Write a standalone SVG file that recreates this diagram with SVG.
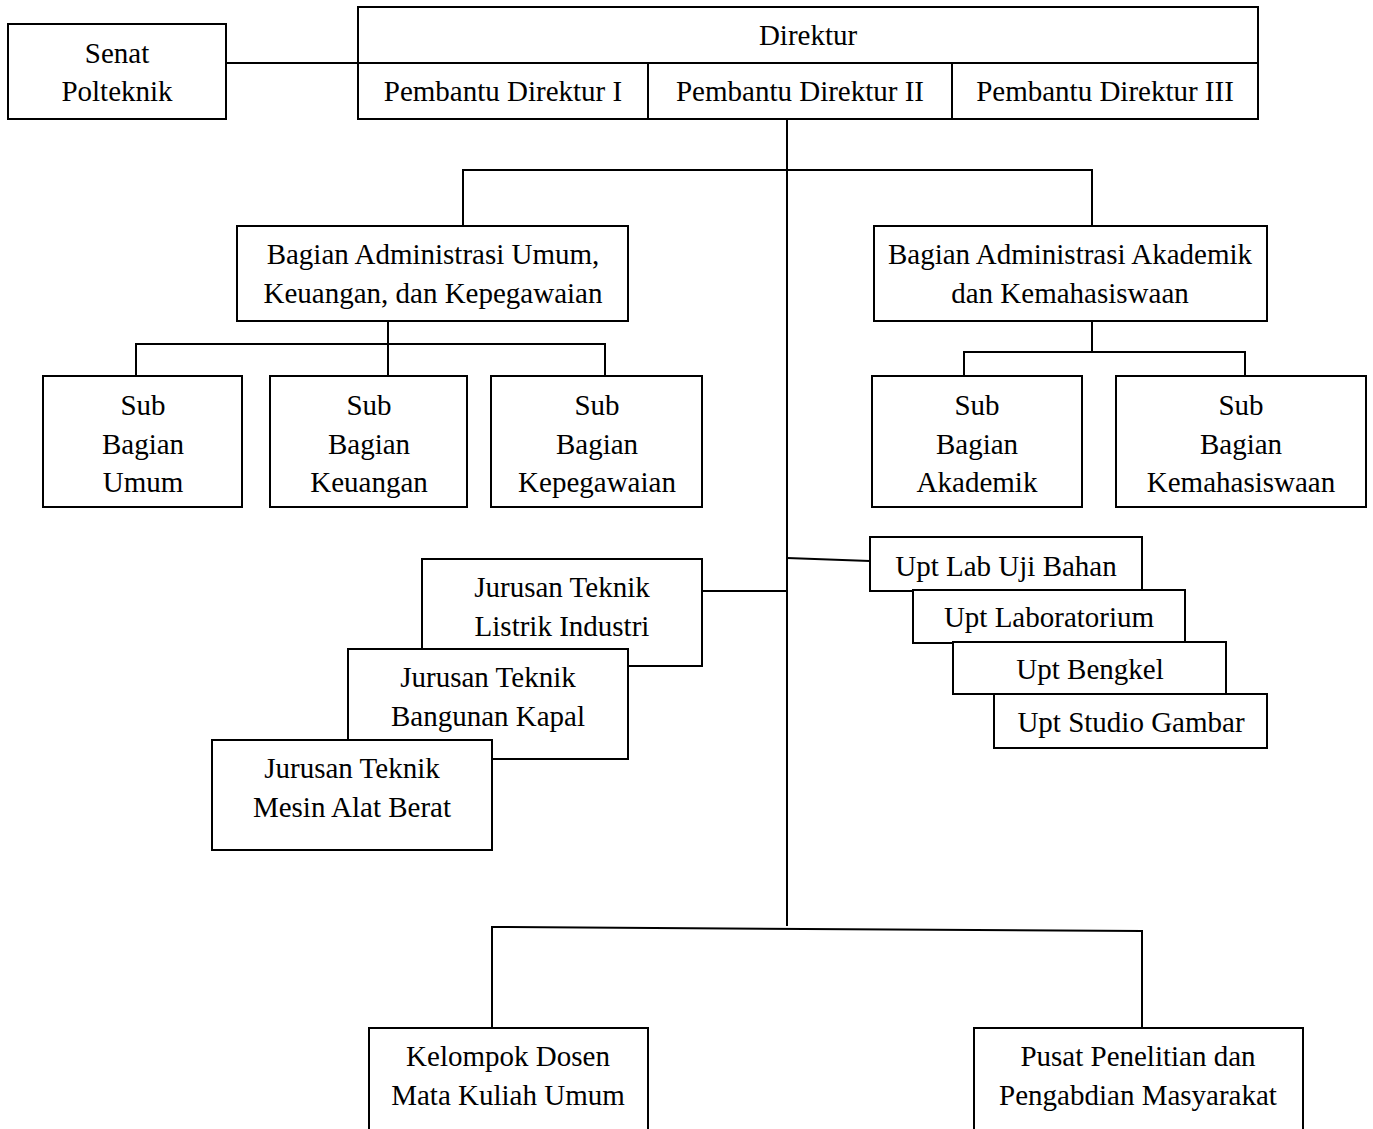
<svg xmlns="http://www.w3.org/2000/svg" width="1373" height="1129" viewBox="0 0 1373 1129">
<style>
.box{fill:#fff;stroke:#000;stroke-width:2}
.ln{fill:none;stroke:#000;stroke-width:2}
text{font-family:"Liberation Serif","Times New Roman",serif;font-size:29px;fill:#000;text-anchor:middle}
</style>
<rect width="1373" height="1129" fill="#fff"/>
<g id="connectors">
<line class="ln" x1="226" y1="63" x2="358" y2="63"/>
<line class="ln" x1="787" y1="119" x2="787" y2="926"/>
<polyline class="ln" points="463,226 463,170 1092,170 1092,226"/>
<line class="ln" x1="388" y1="321" x2="388" y2="376"/>
<polyline class="ln" points="136,376 136,344 605,344 605,376"/>
<line class="ln" x1="1092" y1="321" x2="1092" y2="352"/>
<polyline class="ln" points="964,376 964,352 1245,352 1245,376"/>
<line class="ln" x1="787" y1="558" x2="870" y2="561"/>
<line class="ln" x1="702" y1="591" x2="787" y2="591"/>
<polyline class="ln" points="492,1028 492,927 1142,931 1142,1028"/>
</g>
<g id="senat">
<rect class="box" x="8" y="24" width="218" height="95"/>
<text x="117" y="63">Senat</text>
<text x="117" y="101">Polteknik</text>
</g>
<g id="direktur">
<rect class="box" x="358" y="7" width="900" height="112"/>
<line class="ln" x1="358" y1="63" x2="1258" y2="63"/>
<line class="ln" x1="648" y1="63" x2="648" y2="119"/>
<line class="ln" x1="952" y1="63" x2="952" y2="119"/>
<text x="808" y="45">Direktur</text>
<text x="503" y="101">Pembantu Direktur I</text>
<text x="800" y="101">Pembantu Direktur II</text>
<text x="1105" y="101">Pembantu Direktur III</text>
</g>
<g id="bagian-umum">
<rect class="box" x="237" y="226" width="391" height="95"/>
<text x="433" y="264">Bagian Administrasi Umum,</text>
<text x="433" y="303">Keuangan, dan Kepegawaian</text>
</g>
<g id="bagian-akademik">
<rect class="box" x="874" y="226" width="393" height="95"/>
<text x="1070" y="264">Bagian Administrasi Akademik</text>
<text x="1070" y="303">dan Kemahasiswaan</text>
</g>
<g id="sub-umum">
<rect class="box" x="43" y="376" width="199" height="131"/>
<text x="143" y="415">Sub</text>
<text x="143" y="454">Bagian</text>
<text x="143" y="492">Umum</text>
</g>
<g id="sub-keuangan">
<rect class="box" x="270" y="376" width="197" height="131"/>
<text x="369" y="415">Sub</text>
<text x="369" y="454">Bagian</text>
<text x="369" y="492">Keuangan</text>
</g>
<g id="sub-kepegawaian">
<rect class="box" x="491" y="376" width="211" height="131"/>
<text x="597" y="415">Sub</text>
<text x="597" y="454">Bagian</text>
<text x="597" y="492">Kepegawaian</text>
</g>
<g id="sub-akademik">
<rect class="box" x="872" y="376" width="210" height="131"/>
<text x="977" y="415">Sub</text>
<text x="977" y="454">Bagian</text>
<text x="977" y="492">Akademik</text>
</g>
<g id="sub-kemahasiswaan">
<rect class="box" x="1116" y="376" width="250" height="131"/>
<text x="1241" y="415">Sub</text>
<text x="1241" y="454">Bagian</text>
<text x="1241" y="492">Kemahasiswaan</text>
</g>
<g id="upt-lab-uji-bahan">
<rect class="box" x="870" y="537" width="272" height="54"/>
<text x="1006" y="576">Upt Lab Uji Bahan</text>
</g>
<g id="upt-laboratorium">
<rect class="box" x="913" y="590" width="272" height="53"/>
<text x="1049" y="627">Upt Laboratorium</text>
</g>
<g id="upt-bengkel">
<rect class="box" x="953" y="642" width="273" height="52"/>
<text x="1090" y="679">Upt Bengkel</text>
</g>
<g id="upt-studio-gambar">
<rect class="box" x="994" y="694" width="273" height="54"/>
<text x="1131" y="732">Upt Studio Gambar</text>
</g>
<g id="jurusan-listrik">
<rect class="box" x="422" y="559" width="280" height="107"/>
<text x="562" y="597">Jurusan Teknik</text>
<text x="562" y="636">Listrik Industri</text>
</g>
<g id="jurusan-kapal">
<rect class="box" x="348" y="649" width="280" height="110"/>
<text x="488" y="687">Jurusan Teknik</text>
<text x="488" y="726">Bangunan Kapal</text>
</g>
<g id="jurusan-mesin">
<rect class="box" x="212" y="740" width="280" height="110"/>
<text x="352" y="778">Jurusan Teknik</text>
<text x="352" y="817">Mesin Alat Berat</text>
</g>
<g id="kelompok-dosen">
<polyline class="box" points="369,1135 369,1028 648,1028 648,1135"/>
<text x="508" y="1066">Kelompok Dosen</text>
<text x="508" y="1105">Mata Kuliah Umum</text>
</g>
<g id="pusat-penelitian">
<polyline class="box" points="974,1135 974,1028 1303,1028 1303,1135"/>
<text x="1138" y="1066">Pusat Penelitian dan</text>
<text x="1138" y="1105">Pengabdian Masyarakat</text>
</g>
</svg>
